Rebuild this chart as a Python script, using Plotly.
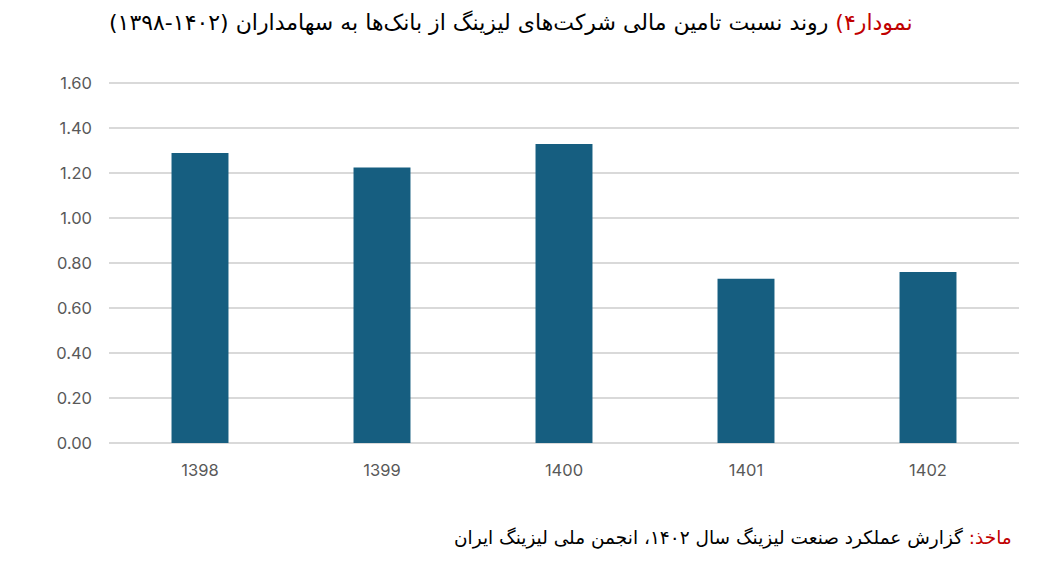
import plotly.graph_objects as go

years = ["1398", "1399", "1400", "1401", "1402"]
ratios = [1.29, 1.225, 1.33, 0.73, 0.76]
y_ticks = [0, 0.2, 0.4, 0.6, 0.8, 1.0, 1.2, 1.4, 1.6]
y_tick_labels = ["0.00", "0.20", "0.40", "0.60", "0.80", "1.00", "1.20", "1.40", "1.60"]

title_red = "نمودار۴)"
title_black = " روند نسبت تامین مالی شرکت‌های لیزینگ از بانک‌ها به سهامداران (۱۴۰۲-۱۳۹۸)"
source_red = "ماخذ:"
source_black = " گزارش عملکرد صنعت لیزینگ سال ۱۴۰۲، انجمن ملی لیزینگ ایران"

RLM = "\u200f"

fig = go.Figure()
fig.add_trace(go.Bar(x=years, y=ratios, marker=dict(color="#165e80", line=dict(width=0)),
                     showlegend=False))

fig.update_layout(
    width=1059, height=572,
    margin=dict(l=101, r=48, t=73, b=137),
    paper_bgcolor="white", plot_bgcolor="white",
    bargap=0.687,
    font=dict(family="Inter, DejaVu Sans", color="#595959", size=16),
    xaxis=dict(type="category", showgrid=False, showline=False, zeroline=False,
               ticks="outside", ticklen=12, tickcolor="rgba(0,0,0,0)",
               tickfont=dict(family="Inter", size=16.5, color="#595959")),
    yaxis=dict(range=[0, 1.61], tickvals=y_ticks, ticktext=y_tick_labels,
               showgrid=True, gridcolor="#d9d9d9", gridwidth=1.5,
               zeroline=True, zerolinecolor="#d9d9d9", zerolinewidth=1.5,
               showline=False, ticklabelstandoff=16,
               tickfont=dict(family="Inter", size=16.5, color="#595959")),
)

fig.add_annotation(
    xref="paper", yref="paper", x=0.8857, y=1.161, xanchor="right", yanchor="middle",
    showarrow=False,
    text=RLM + "<span style='color:#c00000'>" + title_red + "</span>" + title_black + RLM,
    font=dict(family="DejaVu Sans", size=22, color="#000000"),
)
fig.add_annotation(
    xref="paper", yref="paper", x=0.9945, y=-0.262, xanchor="right", yanchor="middle",
    showarrow=False,
    text=RLM + "<span style='color:#c00000'>" + source_red + "</span>" + source_black + RLM,
    font=dict(family="DejaVu Sans", size=18.5, color="#000000"),
)

fig.write_html("out.html")
